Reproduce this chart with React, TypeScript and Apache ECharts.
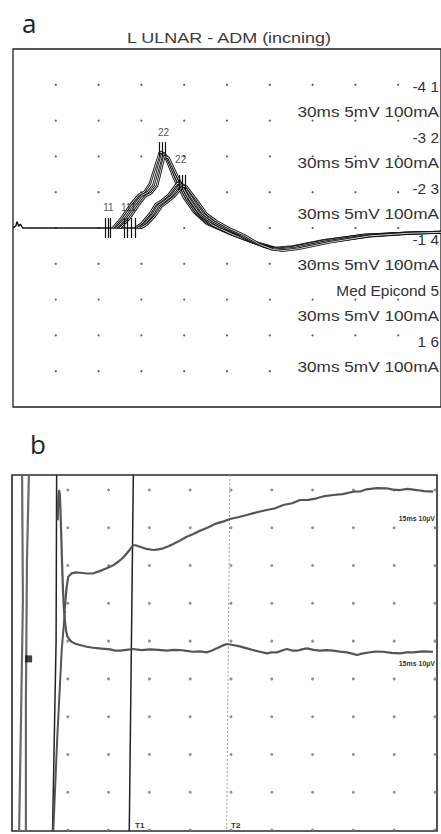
import React, { useEffect, useRef } from "react";
import * as echarts from "echarts";

// ---------- Panel a : L ULNAR - ADM, x in ms (3 ms/div), y in mV (5 mV/div) ----------
const titleA = "L ULNAR - ADM (incning)";
const siteLabels = ["-4 1", "-3 2", "-2 3", "-1 4", "Med Epicond 5", "1 6"];
const settingsLabel = "30ms 5mV 100mA";

const gridColsA = [3, 6, 9, 12, 15, 18, 21, 24, 27];
const gridRowsA = [-20, -15, -10, -5, 0, 5, 10, 15, 20];

const artifactA: number[][] = [[0, 0], [0.2, 0.3], [0.28, 0.9], [0.4, 0.25], [0.52, 0.55], [0.68, 0], [0.9, 0]];
const baselineA: number[][] = [[0.9, 0], [9.0, 0]];

const traceA1: number[][] = [[7.0, 0], [7.6, 1.4], [8.3, 3.4], [8.8, 4.6], [9.2, 5.0], [9.6, 6.2], [10.3, 10.6], [10.6, 10.4], [11.3, 6.9], [12.0, 4.2], [12.7, 2.2], [13.6, 0.6], [15.0, -0.6], [16.5, -1.7], [18.4, -2.8], [19.6, -2.6], [21.8, -1.7], [24.6, -1.0], [27.4, -0.7], [30, -0.55]];
const traceA2: number[][] = [[7.25, 0], [7.85, 1.3], [8.55, 3.3], [9.0, 4.5], [9.45, 5.0], [9.85, 6.0], [10.45, 10.3], [10.75, 10.1], [11.5, 6.7], [12.2, 4.0], [12.9, 2.0], [13.8, 0.5], [15.2, -0.8], [16.8, -2.0], [18.6, -3.0], [19.8, -2.7], [22.0, -1.8], [24.8, -1.1], [27.5, -0.75], [30, -0.6]];
const traceA3: number[][] = [[7.5, 0], [8.1, 1.2], [8.8, 3.2], [9.25, 4.4], [9.7, 4.9], [10.1, 5.9], [10.6, 10.0], [10.9, 9.8], [11.7, 6.5], [12.4, 3.8], [13.1, 1.8], [14.0, 0.4], [15.5, -1.0], [17.1, -2.2], [18.8, -3.1], [20.0, -2.8], [22.2, -1.9], [25.0, -1.15], [27.6, -0.8], [30, -0.62]];
const traceB1: number[][] = [[8.55, 0], [9.0, 0.6], [9.6, 2.0], [10.0, 3.3], [10.4, 3.8], [10.9, 4.6], [11.5, 6.2], [11.75, 6.2], [12.3, 4.2], [13.0, 2.2], [13.7, 1.1], [14.6, 0.1], [15.6, -0.7], [16.7, -1.9], [17.6, -2.6], [18.6, -2.9], [19.6, -2.7], [21.8, -1.8], [24.6, -1.0], [27.4, -0.7], [30, -0.55]];
const traceB2: number[][] = [[8.75, 0], [9.2, 0.5], [9.8, 1.9], [10.2, 3.2], [10.6, 3.7], [11.1, 4.5], [11.7, 6.0], [11.95, 6.0], [12.6, 4.0], [13.3, 2.0], [14.0, 1.0], [14.9, 0], [15.9, -0.9], [17.0, -2.1], [17.9, -2.8], [18.8, -3.0], [19.8, -2.8], [22.0, -1.9], [24.8, -1.05], [27.5, -0.72], [30, -0.57]];
const traceB3: number[][] = [[8.95, 0], [9.4, 0.5], [10.0, 1.8], [10.4, 3.0], [10.8, 3.6], [11.3, 4.4], [11.9, 5.8], [12.15, 5.8], [12.9, 3.8], [13.6, 1.9], [14.3, 0.9], [15.2, -0.1], [16.2, -1.0], [17.3, -2.3], [18.2, -3.0], [19.0, -3.15], [20.0, -2.9], [22.2, -2.0], [25.0, -1.1], [27.6, -0.75], [30, -0.6]];

const onsetTicks = [6.48, 6.66, 6.83, 7.79, 8.03, 8.28, 8.55];
const peakTicksA = [10.28, 10.48, 10.69];
const peakTicksB = [11.66, 11.86, 12.07];
const markerLabels = [
  { name: "11", value: [6.69, 2.9] },
  { name: "111", value: [8.1, 2.9] },
  { name: "22", value: [10.55, 13.4] },
  { name: "22", value: [11.75, 9.5] },
];

// ---------- Panel b : x in ms (15 ms/div), y in µV (10 µV/div) ----------
const gridColsB = [0, 15, 30, 45, 60, 75, 90, 105, 120, 135];
const gridRowsB = [0, 10, 20, 30, 40, 50, 60, 70, 80, 90];
const scaleLabelB = "15ms 10\u00b5V";

const upperTrace: number[][] = [[-1.2, 58.0], [-0.4, 64.4], [0.18, 67.05], [1.43, 67.95], [3.0, 68.2], [4.49, 68.1], [7.0, 67.9], [9.38, 67.95], [12.0, 68.6], [14.3, 69.3], [16.5, 70.0], [18.57, 71.0], [20.2, 72.0], [21.65, 73.2], [23.0, 74.4], [24.08, 75.44], [25.2, 75.3], [26.54, 74.99], [29.0, 74.4], [31.43, 74.11], [33.3, 74.3], [35.11, 74.56], [37.0, 75.1], [38.79, 75.7], [41.2, 76.6], [43.71, 77.63], [46.0, 78.3], [48.6, 79.22], [51.5, 80.1], [54.74, 81.18], [57.3, 81.7], [59.63, 82.32], [62.6, 82.8], [65.77, 83.38], [69.5, 84.1], [73.13, 84.7], [76.0, 85.1], [79.23, 86.02], [82.5, 86.5], [85.37, 87.35], [88.5, 87.4], [91.51, 87.8], [94.5, 88.4], [97.61, 88.67], [101.0, 88.9], [104.96, 89.55], [107.5, 89.6], [109.89, 90.18], [113.5, 90.5], [117.24, 90.45], [119.5, 90.1], [122.13, 89.99], [125.0, 90.3], [128.27, 89.99], [131.0, 89.7], [134.38, 89.55]];
const lowerTrace: number[][] = [[-3.7, 82.0], [-3.5, 87.5], [-3.25, 90.0], [-2.95, 89.0], [-2.7, 85.0], [-2.4, 78.0], [-2.1, 70.5], [-1.76, 63.5], [-1.4, 58.2], [-1.03, 55.1], [-0.66, 52.9], [-0.2, 51.3], [0.5, 50.5], [1.43, 49.8], [2.8, 49.3], [4.49, 48.97], [7.0, 48.5], [9.26, 48.25], [12.5, 48.0], [15.51, 47.83], [17.4, 47.5], [19.19, 47.46], [21.6, 47.7], [23.97, 47.91], [27.1, 47.6], [30.22, 47.83], [33.3, 47.7], [36.47, 47.46], [39.0, 47.7], [41.25, 47.64], [43.6, 47.4], [46.03, 47.19], [48.6, 47.3], [51.18, 47.03], [53.0, 47.5], [54.85, 48.09], [56.8, 48.8], [58.53, 49.23], [60.74, 48.97], [63.2, 48.6], [65.88, 48.09], [68.3, 47.6], [70.66, 47.19], [73.24, 46.77], [74.9, 47.0], [76.91, 47.03], [78.8, 47.5], [80.59, 47.91], [82.4, 47.5], [84.26, 47.46], [86.1, 47.8], [87.94, 48.09], [90.3, 47.7], [92.72, 47.46], [95.1, 47.6], [97.5, 47.46], [100.1, 47.2], [102.65, 47.03], [104.5, 46.7], [106.32, 46.32], [108.2, 46.7], [110.0, 46.93], [113.0, 47.2], [115.88, 47.19], [119.0, 46.9], [122.13, 46.77], [124.5, 47.0], [126.91, 47.03], [130.5, 47.3], [134.26, 47.19]];
const leftLine1: number[][] = [[-16.8, 94], [-16.5, 60.9], [-17.2, 29.1], [-17.9, -0.3]];
const leftLine2: number[][] = [[-14.3, 94], [-15.0, 71.5], [-15.4, 34.4], [-15.4, -0.3]];
const stimLine: number[][] = [[-4.1, 94], [-4.3, 50], [-5.6, -0.3]];
const slantLine: number[][] = [[-1.03, 58], [-2.24, 47.6], [-3.9, 24], [-5.33, -0.3]];
const cursorT1: number[][] = [[24.1, 94], [22.6, -0.3]];
const cursorT2: number[][] = [[59.6, 94], [58.4, -0.3]];
const squareMarker: number[][] = [[-14.4, 45.3]];

const FONT = '"Liberation Sans", Arial, sans-serif';

function cross(cols: number[], rows: number[]) {
  const out: number[][] = [];
  cols.forEach((c) => rows.forEach((r) => out.push([c, r])));
  return out;
}

function tickPairs(ts: number[], lo: number, hi: number) {
  return ts.map((t) => [{ coord: [t, lo] }, { coord: [t, hi] }]);
}

function txt(text: string, x: number, y: number, size: number, opts: any = {}) {
  return {
    type: "text",
    x,
    y,
    scaleX: opts.scaleX ?? 1,
    z: 50,
    style: {
      text,
      font: `${opts.weight ?? "normal"} ${size}px ${opts.family ?? FONT}`,
      fill: opts.fill ?? "#333",
      textAlign: opts.align ?? "left",
      align: opts.align ?? "left",
      textVerticalAlign: "middle",
      verticalAlign: "middle",
    },
  };
}

export default function App() {
  const ref = useRef<HTMLDivElement>(null);
  useEffect(() => {
    if (!ref.current) return;
    const chart = echarts.init(ref.current, undefined, { renderer: "svg" });
    const lineA = (data: number[][], color: string, width: number, extra: any = {}) => ({
      type: "line",
      xAxisIndex: 0,
      yAxisIndex: 0,
      data,
      symbol: "none",
      silent: true,
      lineStyle: { color, width },
      z: 3,
      ...extra,
    });
    const lineB = (data: number[][], color: string, width: number, extra: any = {}) => ({
      type: "line",
      xAxisIndex: 1,
      yAxisIndex: 1,
      data,
      symbol: "none",
      silent: true,
      lineStyle: { color, width, ...(extra.lineStyle || {}) },
      z: 3,
      ...(extra.z ? { z: extra.z } : {}),
    });
    const tracesA = [traceA1, traceA2, traceA3, traceB1, traceB2, traceB3];
    const outlined: any[] = [];
    tracesA.forEach((tr) => {
      outlined.push(lineA(tr, "#111", 2.6));
      outlined.push(lineA(tr, "#fff", 0.8));
    });

    const siteY = [87, 138, 189, 240, 291, 342];
    const setY = [112.5, 163.5, 214.5, 265.5, 316.5, 367.5];

    const graphics: any[] = [
      txt("a", 22, 23, 26, { family: '"Open Sans", sans-serif', fill: "#222" }),
      txt("b", 30, 444, 26, { family: '"Open Sans", sans-serif', fill: "#222" }),
      txt(titleA, 229, 38, 15, { align: "center", scaleX: 1.2, fill: "#3a3a3a" }),
      ...siteLabels.map((s, i) => txt(s, 439, siteY[i], 14, { align: "right", scaleX: 1.1 })),
      ...setY.map((y) => txt(settingsLabel, 439, y, 14, { align: "right", scaleX: 1.23 })),
      txt(scaleLabelB, 435, 518, 7, { align: "right", weight: "bold", fill: "#333" }),
      txt(scaleLabelB, 435, 663, 7, { align: "right", weight: "bold", fill: "#333" }),
      txt("T1", 135, 825, 8, { weight: "bold", fill: "#333" }),
      txt("T2", 231, 825, 8, { weight: "bold", fill: "#333" }),
    ];

    chart.setOption({
      animation: false,
      backgroundColor: "#fff",
      grid: [
        { left: 13, top: 49, width: 435, height: 358, show: true, borderColor: "#1e1e1e", borderWidth: 1.3 },
        { left: 12, top: 475, width: 425, height: 356, show: true, borderColor: "#2a2a2a", borderWidth: 1.6 },
      ],
      xAxis: [
        { type: "value", gridIndex: 0, min: 0, max: 30, show: false },
        { type: "value", gridIndex: 1, min: -20.51, max: 135.74, show: false },
      ],
      yAxis: [
        { type: "value", gridIndex: 0, min: -25, max: 25, show: false },
        { type: "value", gridIndex: 1, min: -0.26, max: 93.97, show: false },
      ],
      series: [
        {
          type: "scatter",
          xAxisIndex: 0,
          yAxisIndex: 0,
          data: cross(gridColsA, gridRowsA),
          symbolSize: 2.2,
          itemStyle: { color: "#333" },
          silent: true,
          z: 1,
        },
        lineA(artifactA, "#111", 1.4),
        lineA(baselineA, "#111", 1.6, {
          markLine: {
            silent: true,
            symbol: ["none", "none"],
            label: { show: false },
            lineStyle: { color: "#111", width: 1.2, type: "solid" },
            data: [
              ...tickPairs(onsetTicks, -1.4, 1.4),
              ...tickPairs(peakTicksA, 10.0, 12.0),
              ...tickPairs(peakTicksB, 5.3, 7.4),
            ],
          },
        }),
        ...outlined,
        {
          type: "scatter",
          xAxisIndex: 0,
          yAxisIndex: 0,
          data: markerLabels,
          symbolSize: 0,
          silent: true,
          z: 6,
          label: {
            show: true,
            position: "inside",
            formatter: "{b}",
            fontSize: 10,
            fontFamily: FONT,
            color: "#222",
          },
        },
        // panel b
        {
          type: "scatter",
          xAxisIndex: 1,
          yAxisIndex: 1,
          data: cross(gridColsB, gridRowsB),
          symbolSize: 3,
          itemStyle: { color: "#777" },
          silent: true,
          z: 1,
        },
        lineB(leftLine1, "#6a6a6a", 2.2),
        lineB(leftLine2, "#6a6a6a", 2.2),
        lineB(stimLine, "#222", 1.5),
        lineB(slantLine, "#555", 2),
        lineB(cursorT1, "#222", 1.5),
        lineB(cursorT2, "#999", 1, { lineStyle: { type: [2, 2] } }),
        lineB(upperTrace, "#555", 2.2, { z: 4 }),
        lineB(lowerTrace, "#555", 2.2, { z: 4 }),
        {
          type: "scatter",
          xAxisIndex: 1,
          yAxisIndex: 1,
          data: squareMarker,
          symbol: "rect",
          symbolSize: 7,
          itemStyle: { color: "#111" },
          silent: true,
          z: 5,
        },
      ],
      graphic: graphics,
    });
    return () => chart.dispose();
  }, []);
  return (
    <div
      ref={ref}
      style={{ position: "absolute", left: 0, top: 0, width: 441, height: 834, background: "#fff" }}
    />
  );
}
